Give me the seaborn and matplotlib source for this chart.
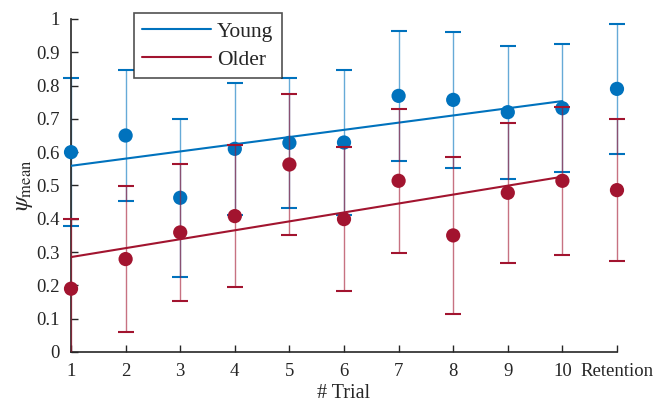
import numpy as np
import pandas as pd
import matplotlib
matplotlib.use("Agg")
import matplotlib.pyplot as plt
from matplotlib.patches import Rectangle
import seaborn as sns


TRIALS = [1, 2, 3, 4, 5, 6, 7, 8, 9, 10, 11]
TICK_LABELS = ["1", "2", "3", "4", "5", "6", "7", "8", "9", "10", "Retention"]

young_mean = [0.600, 0.650, 0.463, 0.610, 0.628, 0.629, 0.769, 0.757, 0.720, 0.732, 0.790]
young_err = [0.222, 0.196, 0.237, 0.198, 0.195, 0.217, 0.195, 0.204, 0.200, 0.192, 0.195]
older_mean = [0.190, 0.279, 0.359, 0.408, 0.563, 0.399, 0.514, 0.350, 0.478, 0.514, 0.486]
older_err = [0.208, 0.218, 0.205, 0.212, 0.211, 0.215, 0.217, 0.235, 0.211, 0.223, 0.213]

# linear trend over trials 1-10 (slope, intercept)
young_fit = [0.0216, 0.5374]
older_fit = [0.0268, 0.2582]

BLUE = "#0072BD"
RED = "#A2142F"


def main():
    sns.set_theme(style="ticks")
    plt.rcParams["font.family"] = ["Liberation Serif", "DejaVu Serif"]
    plt.rcParams["mathtext.fontset"] = "stix"
    plt.rcParams["xtick.direction"] = "in"
    plt.rcParams["ytick.direction"] = "in"

    fig = plt.figure(figsize=(6.54, 4.03), dpi=100)
    ax = fig.add_axes([0.1086, 0.1266, 0.8348, 0.8264])

    # let bars spill past the left/top edges but not below y=0
    clip_rect = Rectangle((-0.05, 0), 1.1, 1.1, transform=ax.transAxes,
                          facecolor="none", edgecolor="none")

    groups = [("Young", young_mean, young_err, young_fit, BLUE, 2),
              ("Older", older_mean, older_err, older_fit, RED, 5)]

    for name, mean, err, fit, color, z in groups:
        df = pd.DataFrame({"trial": TRIALS, "mean": mean, "err": err})
        eb = ax.errorbar(df["trial"], df["mean"], yerr=df["err"], fmt="none",
                         ecolor=color, elinewidth=1.0, capsize=5.5,
                         capthick=1.5, zorder=z)
        eb[2][0].set_alpha(0.6)
        for art in list(eb[1]) + list(eb[2]):
            art.set_clip_path(clip_rect)

        fit_x = np.array(TRIALS[:10])
        fit_df = pd.DataFrame({"trial": fit_x, "fit": fit[0] * fit_x + fit[1]})
        sns.lineplot(data=fit_df, x="trial", y="fit", color=color, lw=1.5,
                     ax=ax, label=name, zorder=z + 1)

        sns.scatterplot(data=df, x="trial", y="mean", color=color, s=105,
                        edgecolor="none", ax=ax, clip_on=False, zorder=z + 2,
                        legend=False)

    ax.set_xlim(1, 11)
    ax.set_ylim(0, 1)
    ax.set_xticks(TRIALS)
    ax.set_xticklabels(TICK_LABELS)
    ax.set_yticks(np.arange(0, 1.01, 0.1))
    ax.set_yticklabels(["0", "0.1", "0.2", "0.3", "0.4", "0.5",
                        "0.6", "0.7", "0.8", "0.9", "1"])
    ax.tick_params(labelsize=13.5, length=5, width=1, color="#262626",
                   labelcolor="#262626", pad=8)
    for s in ["left", "bottom"]:
        ax.spines[s].set_linewidth(1.2)
        ax.spines[s].set_color("#262626")
    sns.despine(ax=ax)

    ax.set_xlabel("# Trial", fontsize=14.5, color="#262626", labelpad=3)
    ax.set_ylabel(r"$\psi_{\mathrm{mean}}$", fontsize=17, color="#262626",
                  labelpad=1)

    leg = ax.legend(loc="upper left", bbox_to_anchor=(0.115, 1.017),
                    fontsize=15.5, frameon=True, fancybox=False,
                    edgecolor="#262626", handlelength=3.2, handletextpad=0.25,
                    borderpad=0.4, labelspacing=0.35, borderaxespad=0)
    leg.get_frame().set_linewidth(1.2)

    plt.savefig("out.png", dpi=100)


if __name__ == "__main__":
    main()
